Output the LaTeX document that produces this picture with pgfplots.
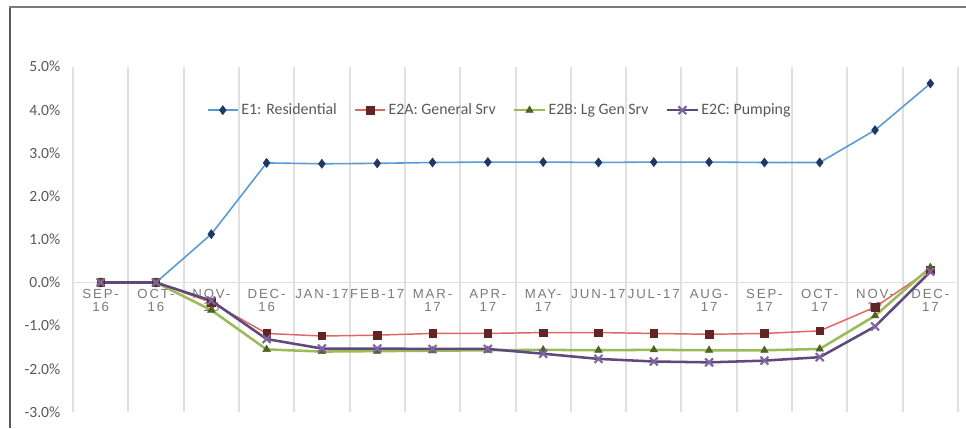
\documentclass[border=0pt]{standalone}
\usepackage{fontspec}
\setmainfont{Carlito}
\newfontfamily\axfont[LetterSpace=14]{Liberation Sans}
\usepackage{pgfplots}
\pgfplotsset{compat=1.18}

\definecolor{resline}{HTML}{5B9BD5}
\definecolor{resmark}{HTML}{1F3864}
\definecolor{genline}{HTML}{E06666}
\definecolor{genmark}{HTML}{632523}
\definecolor{lgline}{HTML}{9BBB59}
\definecolor{lgmark}{HTML}{4F6228}
\definecolor{pumpline}{HTML}{5F497A}
\definecolor{pumpmark}{HTML}{8064A2}
\definecolor{labgray}{HTML}{595959}
\definecolor{xlabgray}{HTML}{7A7A7A}
\definecolor{gridgray}{HTML}{E0E0E0}

\begin{document}
\begin{tikzpicture}
\path[use as bounding box] (0,0) rectangle (724.5pt,321pt);
\begin{axis}[
  at={(54.75pt,12pt)}, anchor=south west,
  width=663.75pt, height=259pt, scale only axis,
  xmin=-0.5, xmax=15.5, ymin=-3, ymax=5,
  axis x line=middle, axis y line=left,
  x axis line style={-, draw=gridgray, line width=1.4pt},
  y axis line style={draw=none},
  hide obscured x ticks=false,
  xtick={0,...,15},
  xticklabels={{SEP-\\16},{OCT-\\16},{NOV-\\16},{DEC-\\16},{JAN-17},{FEB-17},
    {MAR-\\17},{APR-\\17},{MAY-\\17},{JUN-17},{JUL-17},{AUG-\\17},{SEP-\\17},
    {OCT-\\17},{NOV-\\17},{DEC-\\17}},
  minor xtick={-0.5,0.5,1.5,2.5,3.5,4.5,5.5,6.5,7.5,8.5,9.5,10.5,11.5,12.5,13.5,14.5,15.5},
  xminorgrids, minor x grid style={gridgray, line width=1.5pt},
  major tick length=0pt, minor tick length=0pt,
  xticklabel style={font=\axfont\fontsize{9.9}{10}\selectfont, text=xlabgray,
    align=center, anchor=north, inner sep=1pt, yshift=-4pt},
  ytick={-3,...,5},
  yticklabels={-3.0\%,-2.0\%,-1.0\%,0.0\%,1.0\%,2.0\%,3.0\%,4.0\%,5.0\%},
  yticklabel style={font=\fontsize{11.7}{12}\selectfont, text=labgray, xshift=-6pt},
  clip=false,
  legend style={at={(0.4825,0.874)}, anchor=center, draw=none, fill=none,
    font=\fontsize{11.9}{12}\selectfont, text=labgray,
    /tikz/every even column/.append style={column sep=11pt}},
  legend columns=-1,
  legend image code/.code={\draw[mark repeat=2,mark phase=2]
    plot coordinates {(0cm,0cm) (0.4cm,0cm) (0.8cm,0cm)};},
]
\addplot[resline, line width=1.2pt, mark=diamond*, mark size=3.4pt,
  mark options={draw=resmark, fill=resmark, line width=0.4pt}] coordinates {
  (0,0) (1,0) (2,1.12) (3,2.77) (4,2.75) (5,2.76) (6,2.78) (7,2.79)
  (8,2.79) (9,2.78) (10,2.79) (11,2.79) (12,2.78) (13,2.78) (14,3.53) (15,4.61)};
\addlegendentry{E1: Residential}
\addplot[genline, line width=1.1pt, mark=square*, mark size=2.8pt,
  mark options={draw=genmark, fill=genmark, line width=0.4pt}] coordinates {
  (0,0) (1,0) (2,-0.46) (3,-1.18) (4,-1.24) (5,-1.22) (6,-1.18) (7,-1.18)
  (8,-1.16) (9,-1.16) (10,-1.18) (11,-1.20) (12,-1.18) (13,-1.12) (14,-0.57) (15,0.30)};
\addlegendentry{E2A: General Srv}
\addplot[lgline, line width=1.9pt, mark=triangle*, mark size=3.2pt,
  mark options={draw=lgmark, fill=lgmark, line width=0.4pt}] coordinates {
  (0,0) (1,0) (2,-0.64) (3,-1.55) (4,-1.60) (5,-1.59) (6,-1.58) (7,-1.57)
  (8,-1.56) (9,-1.57) (10,-1.56) (11,-1.57) (12,-1.57) (13,-1.54) (14,-0.77) (15,0.35)};
\addlegendentry{E2B: Lg Gen Srv}
\addplot[pumpline, line width=1.9pt, mark=x, mark size=4.2pt,
  mark options={draw=pumpmark, line width=1.6pt}] coordinates {
  (0,0) (1,0) (2,-0.42) (3,-1.31) (4,-1.53) (5,-1.53) (6,-1.54) (7,-1.54)
  (8,-1.65) (9,-1.77) (10,-1.83) (11,-1.85) (12,-1.81) (13,-1.73) (14,-1.02) (15,0.25)};
\addlegendentry{E2C: Pumping}
\end{axis}
\draw[line width=1.6pt, color=labgray] (7.5pt,0pt) -- (7.5pt,315.75pt);
\draw[line width=1.6pt, color=xlabgray] (6.7pt,315.75pt) -- (724.5pt,315.75pt);
\end{tikzpicture}
\end{document}
